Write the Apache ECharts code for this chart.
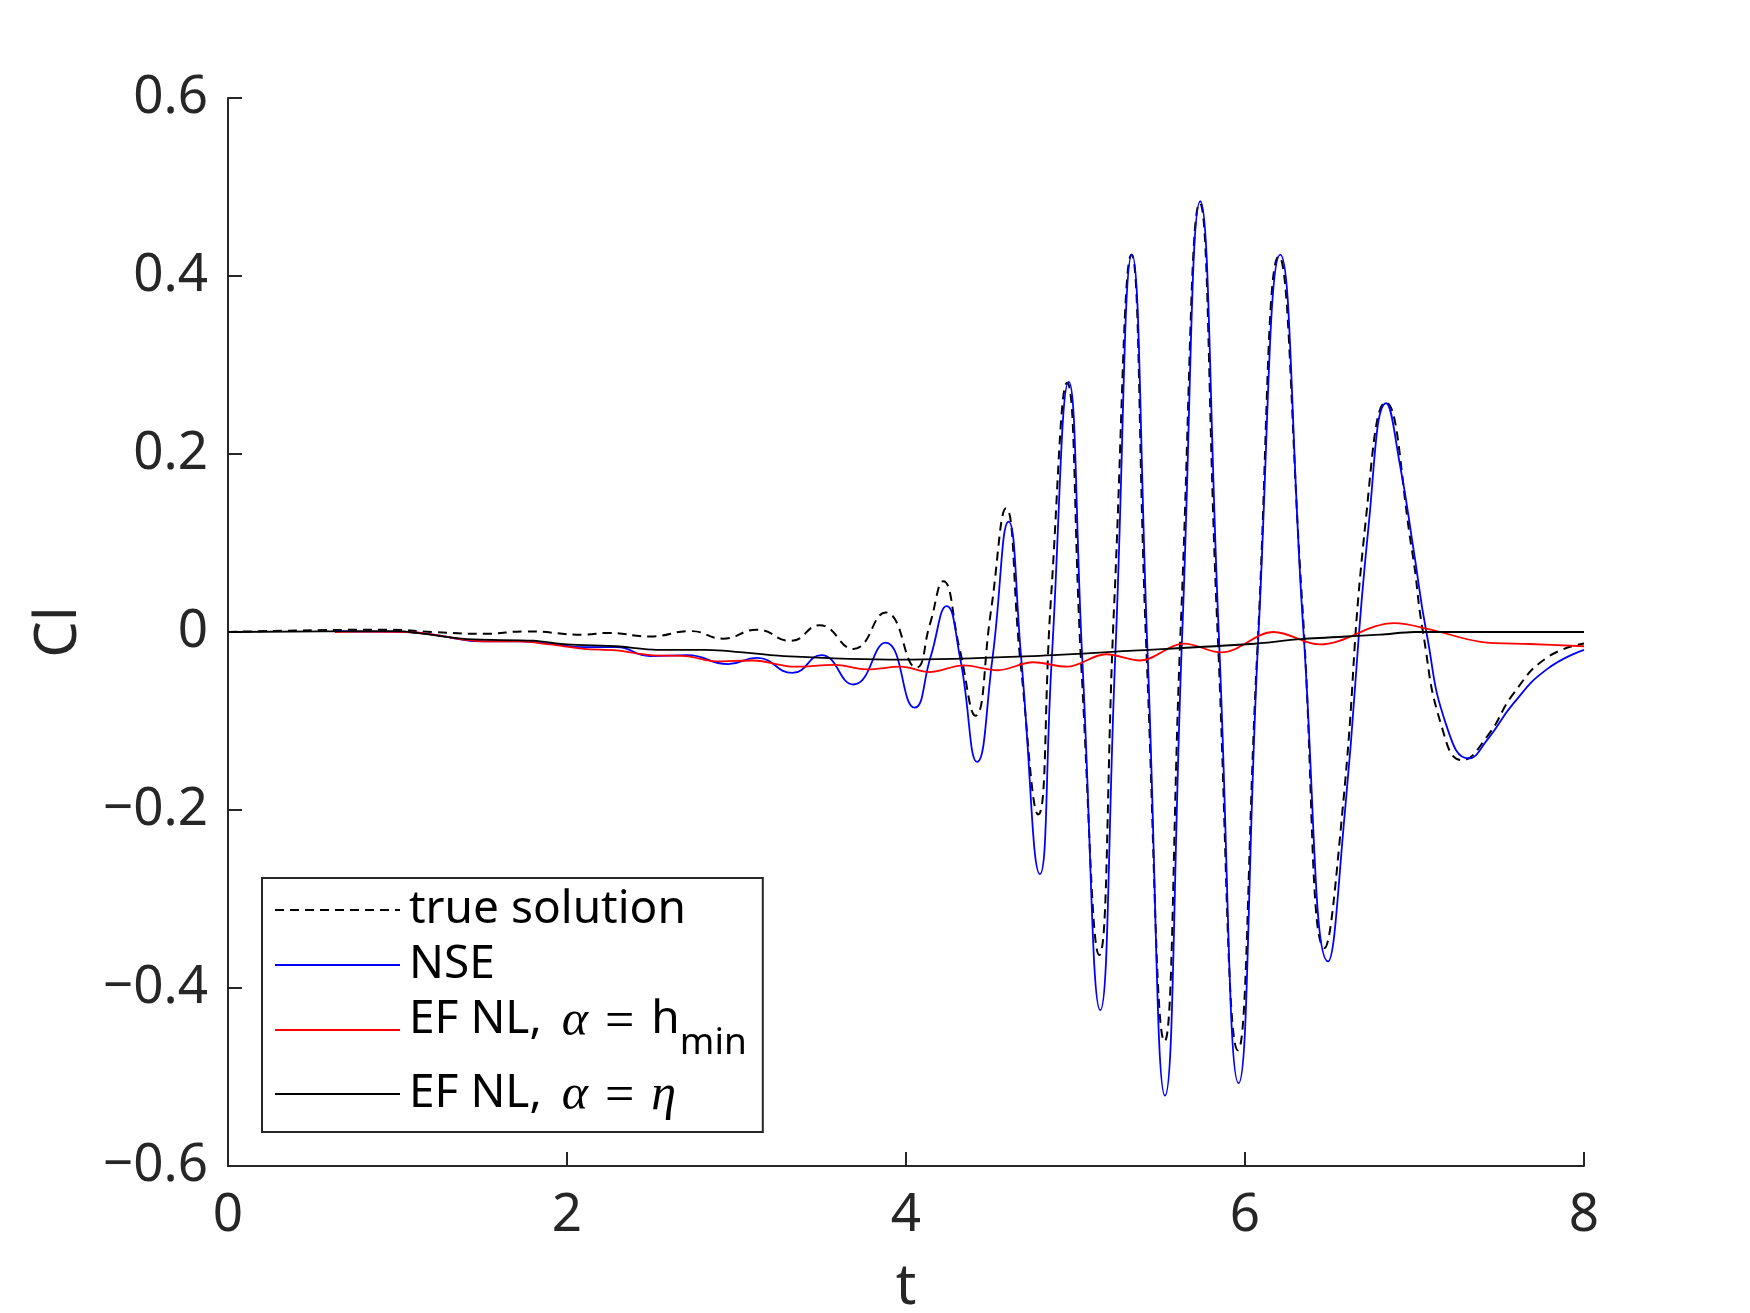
<!DOCTYPE html>
<html>
<head>
<meta charset="utf-8">
<title>Cl</title>
<script src="https://cdn.jsdelivr.net/npm/echarts@6/dist/echarts.min.js"></script>
<style>
  html, body { margin: 0; padding: 0; background: #fff; overflow: hidden; }
  #main { width: 1750px; height: 1313px; }
</style>
</head>
<body>
<div id="main"></div>
<script>
// values (t, Cl)
var tTrue = [0, 0.94, 1.21, 1.51, 1.76, 2.10, 2.24, 2.49, 2.73, 2.92, 3.12, 3.32, 3.49, 3.69, 3.88, 4.06, 4.14, 4.22, 4.315, 4.41, 4.50, 4.59, 4.675, 4.78, 4.855, 4.95, 5.035, 5.14, 5.228, 5.33, 5.418, 5.525, 5.622, 5.733, 5.837, 5.958, 6.072, 6.20, 6.337, 6.47, 6.575, 6.71, 6.83, 6.985, 7.05, 7.16, 7.28, 7.43, 7.585, 7.78, 8.0];
var vTrue = [0, 0.0026, 0, -0.002, 0.0007, -0.003, -0.001, -0.005, 0.001, -0.0075, 0.0026, -0.01, 0.0075, -0.019, 0.022, -0.040, 0.008, 0.057, -0.018, -0.094, 0.022, 0.139, -0.033, -0.205, 0.037, 0.280, -0.041, -0.363, 0.03, 0.424, -0.018, -0.460, 0.011, 0.482, 0.006, -0.470, -0.024, 0.422, 0.034, -0.355, -0.201, 0.121, 0.258, 0.092, 0, -0.106, -0.144, -0.117, -0.069, -0.029, -0.013];

var tNse = [0.63, 0.76, 1.06, 1.21, 1.51, 1.72, 1.90, 2.10, 2.29, 2.49, 2.71, 2.95, 3.12, 3.33, 3.50, 3.69, 3.88, 4.05, 4.145, 4.24, 4.32, 4.42, 4.51, 4.605, 4.68, 4.79, 4.86, 4.96, 5.04, 5.146, 5.235, 5.333, 5.425, 5.528, 5.63, 5.736, 5.845, 5.962, 6.08, 6.208, 6.345, 6.49, 6.59, 6.73, 6.833, 6.916, 6.995, 7.07, 7.19, 7.32, 7.43, 7.585, 7.78, 8.0];
var vNse = [0.001, 0.0005, 0, -0.003, -0.0105, -0.0105, -0.013, -0.017, -0.017, -0.027, -0.026, -0.036, -0.029, -0.046, -0.026, -0.059, -0.012, -0.085, -0.028, 0.029, -0.03, -0.146, -0.03, 0.124, -0.03, -0.272, -0.03, 0.281, -0.03, -0.425, -0.025, 0.424, -0.022, -0.521, 0, 0.484, 0, -0.507, 0, 0.424, 0, -0.370, -0.201, 0.121, 0.257, 0.186, 0.092, 0, -0.106, -0.142, -0.121, -0.080, -0.042, -0.020];

var tHmin = [0.63, 0.76, 1.056, 1.21, 1.51, 1.72, 1.90, 2.10, 2.29, 2.49, 2.70, 2.88, 3.10, 3.34, 3.58, 3.77, 3.97, 4.14, 4.34, 4.54, 4.75, 4.95, 5.18, 5.38, 5.64, 5.86, 6.17, 6.44, 6.88, 7.09, 7.39, 7.68, 8.0];
var vHmin = [0, 0.0005, 0, -0.003, -0.0105, -0.0105, -0.014, -0.019, -0.0207, -0.026, -0.027, -0.033, -0.032, -0.039, -0.037, -0.042, -0.039, -0.045, -0.0375, -0.043, -0.034, -0.039, -0.025, -0.032, -0.013, -0.023, 0.000, -0.014, 0.010, 0.003, -0.011, -0.0135, -0.016];

var tEta = [0, 1.0, 1.115, 1.41, 1.80, 2.0, 2.29, 2.53, 2.81, 3.28, 3.97, 4.75, 5.34, 6.03, 6.33, 6.8, 7.0, 8.0];
var vEta = [0, 0.001, -0.001, -0.008, -0.0098, -0.014, -0.016, -0.020, -0.020, -0.027, -0.031, -0.027, -0.021, -0.0135, -0.008, -0.003, 0, 0];

var xTicks = [0, 2, 4, 6, 8];
var yTicks = [-0.6, -0.4, -0.2, 0, 0.2, 0.4, 0.6];

var axisColor = '#262626';
var fontName = 'Noto Sans';

function zip(t, v) {
    var out = [];
    for (var i = 0; i < t.length; i++) out.push([t[i], v[i]]);
    return out;
}

// legend labels (rich text for the math parts)
var legendText = {
    'true solution': '{n|true solution}',
    'NSE': '{n|NSE}',
    'EF NL hmin': '{n|EF NL,}{a|\u03b1}{e|=}{n|h}{s|min}',
    'EF NL eta': '{n|EF NL,}{a|\u03b1}{e|=}{m|\u03b7}'
};

var chart = echarts.init(document.getElementById('main'));

var option = {
    animation: false,
    backgroundColor: '#ffffff',
    grid: { left: 228, right: 166, top: 98, bottom: 147, containLabel: false, outerBoundsMode: 'none' },
    xAxis: {
        type: 'value',
        min: xTicks[0],
        max: xTicks[xTicks.length - 1],
        interval: 2,
        name: 't',
        nameLocation: 'middle',
        nameGap: 93,
        nameTextStyle: { fontFamily: fontName, fontSize: 57, color: axisColor },
        axisLine: { onZero: false, lineStyle: { color: axisColor, width: 2 } },
        axisTick: { inside: true, length: 14, lineStyle: { color: axisColor, width: 2 } },
        axisLabel: { margin: 23, fontFamily: fontName, fontSize: 53, color: axisColor },
        splitLine: { show: false }
    },
    yAxis: {
        type: 'value',
        min: yTicks[0],
        max: yTicks[yTicks.length - 1],
        interval: 0.2,
        name: 'Cl',
        nameLocation: 'middle',
        nameGap: 140,
        nameTextStyle: { fontFamily: fontName, fontSize: 58, color: axisColor },
        axisLine: { onZero: false, lineStyle: { color: axisColor, width: 2 } },
        axisTick: { inside: true, length: 14, lineStyle: { color: axisColor, width: 2 } },
        axisLabel: {
            margin: 20, fontFamily: fontName, fontSize: 53, color: axisColor,
            formatter: function (v) {
                if (Math.abs(v) < 1e-9) return '0';
                return v.toFixed(1).replace('-', '\u2212');
            }
        },
        splitLine: { show: false }
    },
    legend: {
        orient: 'vertical',
        left: 262,
        top: 878,
        padding: [9, 16, 9, 12],
        itemGap: 9,
        itemWidth: 125,
        itemHeight: 20,
        borderColor: axisColor,
        borderWidth: 2,
        backgroundColor: '#ffffff',
        itemStyle: { opacity: 0 },
        data: ['true solution', 'NSE', 'EF NL hmin', 'EF NL eta'],
        formatter: function (name) { return legendText[name]; },
        textStyle: {
            color: '#000',
            padding: [0, 0, 0, 4],
            rich: {
                n: { fontFamily: fontName, fontSize: 46, lineHeight: 46, verticalAlign: 'top', color: '#000' },
                a: { fontFamily: 'Liberation Serif', fontStyle: 'italic', fontSize: 50, lineHeight: 46, verticalAlign: 'top', padding: [0, 0, 0, 20], color: '#000' },
                m: { fontFamily: 'Liberation Serif', fontStyle: 'italic', fontSize: 50, lineHeight: 46, verticalAlign: 'top', color: '#000' },
                e: { fontFamily: 'Liberation Serif', fontSize: 52, lineHeight: 46, verticalAlign: 'top', padding: [0, 17, 0, 17], color: '#000' },
                // subscript: its line box sets the row height, so the icon sits between h and min
                s: { fontFamily: fontName, fontSize: 37, lineHeight: 66, verticalAlign: 'top', padding: [28, 0, 0, 0], color: '#000' }
            }
        }
    },
    series: [
        {
            name: 'true solution', type: 'line', data: zip(tTrue, vTrue),
            showSymbol: false, symbol: 'none', smooth: 0.5,
            lineStyle: { color: '#000000', width: 2, type: [9, 6] },
            itemStyle: { color: '#000000' }, z: 2
        },
        {
            name: 'NSE', type: 'line', data: zip(tNse, vNse),
            showSymbol: false, symbol: 'none', smooth: 0.5,
            lineStyle: { color: '#0000ff', width: 1.8 },
            itemStyle: { color: '#0000ff' }, z: 3
        },
        {
            name: 'EF NL hmin', type: 'line', data: zip(tHmin, vHmin),
            showSymbol: false, symbol: 'none', smooth: 0.35,
            lineStyle: { color: '#ff0000', width: 1.8 },
            itemStyle: { color: '#ff0000' }, z: 4
        },
        {
            name: 'EF NL eta', type: 'line', data: zip(tEta, vEta),
            showSymbol: false, symbol: 'none', smooth: 0.3,
            lineStyle: { color: '#000000', width: 1.8 },
            itemStyle: { color: '#000000' }, z: 5
        }
    ]
};

chart.setOption(option);
</script>
</body>
</html>
